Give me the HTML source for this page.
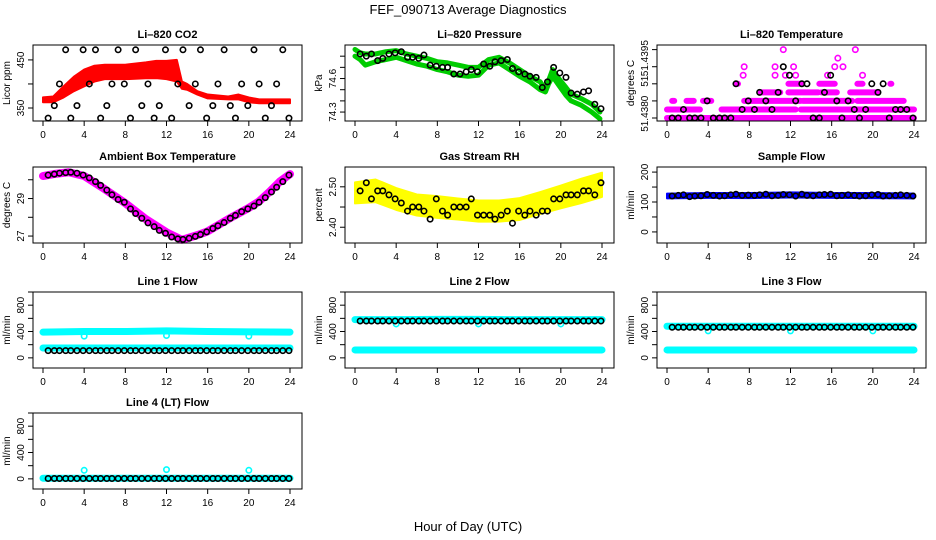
<!DOCTYPE html>
<html><head><meta charset="utf-8"><style>
body{margin:0;background:#fff}
svg{display:block;font-family:"Liberation Sans",sans-serif}
</style></head><body>
<svg id="c" width="936" height="540" viewBox="0 0 936 540" xmlns="http://www.w3.org/2000/svg">
<rect width="936" height="540" fill="#fff"/>
<text x="468" y="14" text-anchor="middle" font-size="13">FEF_090713  Average Diagnostics</text>
<text x="468" y="531" text-anchor="middle" font-size="13">Hour of Day (UTC)</text>
</svg>
<script>
const hourTicks=[0,4,8,12,16,20,24];
const blackHours=[0.5,1.1,1.6,2.2,2.7,3.3,3.9,4.5,5.1,5.6,6.2,6.7,7.3,7.9,8.5,9.0,9.6,10.2,10.8,11.3,11.9,12.5,13.1,13.6,14.2,14.8,15.3,15.9,16.5,17.0,17.6,18.2,18.7,19.3,19.9,20.5,21.0,21.6,22.2,22.7,23.3,23.9];
// CO2
const co2Hours=[0,1,2,3,4,5,6,8,10,11,12,13,13.5,14,15,16,18,19,20,21,24];
const co2Lower=[362,362,372,385,395,405,410,410,412,412,410,405,390,388,378,370,368,368,362,360,360];
const co2Upper=[372,374,395,415,430,438,440,440,445,448,448,450,405,400,385,378,374,378,372,368,368];
const co2Black=[329,355,400,471,329,355,471,400,471,329,355,400,471,400,329,471,355,400,329,355,471,329,400,471,355,400,471,329,355,400,471,355,329,400,355,471,400,329,355,400,471,329];
// Pressure
const presHours=[0,0.5,1,2,3,4,5,6,7,8,9,10,11,12,13,14,15,16,17,18,18.5,18.8,19.2,19.8,20.5,21,22,23,23.8];
const presUpper=[74.86,74.83,74.82,74.82,74.84,74.85,74.82,74.8,74.78,74.75,74.74,74.72,74.7,74.7,74.77,74.79,74.74,74.68,74.62,74.57,74.5,74.58,74.68,74.6,74.52,74.46,74.42,74.37,74.3];
const presLower=[74.8,74.77,74.72,74.75,74.77,74.79,74.76,74.73,74.71,74.68,74.66,74.63,74.62,74.63,74.72,74.74,74.68,74.62,74.57,74.5,74.48,74.55,74.62,74.54,74.45,74.4,74.36,74.3,74.24];
const presBlack=[74.82,74.8,74.82,74.76,74.78,74.82,74.83,74.84,74.79,74.79,74.78,74.81,74.72,74.71,74.7,74.7,74.64,74.64,74.66,74.68,74.66,74.73,74.71,74.75,74.76,74.77,74.69,74.66,74.64,74.62,74.61,74.52,74.57,74.7,74.65,74.61,74.47,74.46,74.48,74.49,74.37,74.33];
// Li-820 temperature (levels)
const tempLevelLabels=["51.4380","51","51.4395"];
const tempRuns=[[0,0,24],[1,0,3.2],[1,5.3,12.5],[1,13,24],[2,0.5,0.7],[2,1.9,2.6],[2,3.5,4.3],[2,7.5,13],[2,13.2,18],[2,18.5,23],[3,9.1,11],[3,11.8,14.7],[3,15,16.5],[3,17.8,20.5],[4,6.8,6.9],[4,11.8,13],[4,14.8,16.3],[4,18.5,19],[4,21.7,21.8]];
const tempSingles=[[5,7.4],[5,10.5],[5,11.5],[5,12.5],[5,15.6],[5,19.0],[6,7.5],[6,10.5],[6,12.3],[6,16.3],[6,17.1],[7,16.6],[8,11.3],[8,18.3]];
const tempBlack=[0,0,1,0,0,0,2,0,0,0,0,4,1,2,1,3,2,1,3,6,5,2,4,4,0,0,3,5,2,0,2,1,0,1,4,3,4,0,1,1,1,0];
// Ambient box temperature
const ambHours=[0,1,2.5,4,6,8,10,12,13.5,15,16,18,20,21,22,23,24];
const ambVals=[30.2,30.3,30.4,30.2,29.5,28.75,27.9,27.2,26.8,27.05,27.25,27.9,28.5,28.85,29.35,29.9,30.3];
const ambBlack=[30.25,30.3,30.35,30.38,30.4,30.35,30.25,30.1,29.9,29.7,29.45,29.2,28.95,28.8,28.45,28.2,27.95,27.7,27.5,27.3,27.15,26.95,26.85,26.82,26.88,26.98,27.08,27.22,27.4,27.55,27.72,27.95,28.1,28.3,28.45,28.6,28.8,29.05,29.35,29.6,29.9,30.25];
// Gas stream RH
const rhHours=[0,2,4,6,8,10,12,14,16,18,20,22,24];
const rhCenter=[2.485,2.49,2.47,2.455,2.45,2.445,2.44,2.44,2.445,2.46,2.475,2.49,2.505];
const rhSpread=[0.026,0.028,0.027,0.026,0.027,0.026,0.026,0.026,0.027,0.027,0.028,0.03,0.03];
const rhBlack=[2.49,2.51,2.47,2.49,2.49,2.48,2.47,2.46,2.44,2.45,2.45,2.44,2.42,2.47,2.44,2.43,2.45,2.45,2.45,2.47,2.43,2.43,2.43,2.42,2.43,2.44,2.41,2.44,2.43,2.44,2.43,2.44,2.44,2.47,2.47,2.48,2.48,2.48,2.49,2.49,2.48,2.51];
// Sample flow
const sfLower=[112,114,113,115,114,113,112];
const sfUpper=[128,130,130,132,130,130,128];
const sfBlack=[120,122,124,118,120,121,125,122,120,121,124,126,122,123,122,124,126,121,122,125,124,120,126,122,121,124,125,126,121,122,124,122,120,121,124,125,120,121,122,124,122,120];
// Flow lines
const flowTicks=[0,200,400,600,800,1000];
const flowLabels=["0","","400","","800",""];
const line1Cyan=[[390,400,400,410,400,395,390],[150,150,150,150,150,150,150]];
const line1Black=110;
const line2Cyan=[[580,580,585,585,580,580,580],[120,120,120,120,120,120,120]];
const line2Black=560;
const line3Cyan=[[480,480,480,480,480,480,480],[120,120,120,120,120,120,120]];
const line3Black=465;
const line4Cyan=[[10,10,10,10,10,10,10]];
const line4Black=5;
const bandHours=[0,4,8,12,16,20,24];
const dipHours=[4,12,20];
const line1Dips=[330,340,330];
const line2Dips=[515,515,515];
const line3Dips=[410,410,410];
const line4Dips=[130,140,130];

const svg=document.getElementById('c');
const NS='http://www.w3.org/2000/svg';
function mk(tag,attrs,parent){const e=document.createElementNS(NS,tag);for(const k in attrs)e.setAttribute(k,attrs[k]);(parent||svg).appendChild(e);return e;}
const rowTop=[45,167,292,413];
function panel(col,row,name,title,ylab,ymin,ymax,yticks,ylabels){
  const L=33+312*col,R=302+312*col,T=rowTop[row],B=T+76;
  const g=mk('g',{});
  
  
  const x=h=>43+312*col+h/24*247;
  const y=v=>B-(v-ymin)/(ymax-ymin)*76;
  const t=mk('text',{x:(L+R)/2,y:T-7,'text-anchor':'middle','font-size':11,'font-weight':'bold'},g);t.textContent=title;
  
  
  const yl=mk('text',{x:0,y:0,'text-anchor':'middle','font-size':10,transform:`translate(${L-23},${(T+B)/2}) rotate(-90)`},g);yl.textContent=ylab;
  
  
  hourTicks.forEach(h=>{mk('line',{x1:x(h),x2:x(h),y1:B,y2:B+5,stroke:'#000'},g);
    const tx=mk('text',{x:x(h),y:B+17,'text-anchor':'middle','font-size':10},g);tx.textContent=h;
    
    });
  yticks.forEach((v,i)=>{mk('line',{x1:L-5,x2:L,y1:y(v),y2:y(v),stroke:'#000'},g);
    if(ylabels[i]){const ty=mk('text',{x:0,y:0,'text-anchor':'middle','font-size':10,transform:`translate(${L-9},${y(v)}) rotate(-90)`},g);ty.textContent=ylabels[i];
      
      }});
  const data=mk('g',{},g);
  mk('rect',{x:L,y:T,width:R-L,height:76,fill:'none',stroke:'#000'},g);
  return {x,y,g:data};
}
function band(p,hours,lo,hi,color,name){
  let pts=hours.map((h,i)=>p.x(h)+','+p.y(hi[i]));
  pts=pts.concat(hours.slice().reverse().map((h,j)=>{const i=hours.length-1-j;return p.x(h)+','+p.y(lo[i]);}));
  const e=mk('polygon',{points:pts.join(' '),fill:color,stroke:color,'stroke-width':2,'stroke-linejoin':'round'},p.g);
  
  
}
function trace(p,hours,vals,color,w,name){
  const e=mk('polyline',{points:hours.map((h,i)=>p.x(h)+','+p.y(vals[i])).join(' '),fill:'none',stroke:color,'stroke-width':w,'stroke-linejoin':'round','stroke-linecap':'round'},p.g);
  
  
}
function pts(p,hours,vals,color,name){
  hours.forEach((h,i)=>{const c=mk('circle',{cx:p.x(h),cy:p.y(vals[i]),r:2.7,fill:'none',stroke:color,'stroke-width':1.6},p.g);
    
    });
}
// CO2
let p=panel(0,0,'co2','Li\u2013820 CO2','Licor ppm',323,481,[350,400,450],['350','','450']);
band(p,co2Hours,co2Lower,co2Upper,'#ff0000','co2-red-series');
pts(p,blackHours,co2Black,'#000','co2-point');
// Pressure
p=panel(1,0,'pressure','Li\u2013820 Pressure','kPa',74.22,74.9,[74.3,74.4,74.5,74.6,74.7,74.8],['74.3','','','74.6','','']);
trace(p,presHours,presUpper,'#00cc00',5,'pressure-green-upper');
trace(p,presHours,presLower,'#00cc00',5,'pressure-green-lower');
pts(p,blackHours,presBlack,'#000','pressure-point');
// Li-820 temperature
p=panel(2,0,'li820-temp','Li\u2013820 Temperature','degrees C',-0.35,8.54,[0,2,4,6,8],['','','','','']);
[[tempLevelLabels[0],0.5],[tempLevelLabels[1],4.3],[tempLevelLabels[2],7]].forEach(([s,v])=>{const t=mk('text',{x:0,y:0,'text-anchor':'middle','font-size':10,transform:`translate(${33+624-9},${p.y(v)}) rotate(-90)`},p.g);t.textContent=s;
  
  });
tempRuns.forEach(r=>{const e=mk('line',{x1:p.x(r[1]),x2:p.x(r[2]),y1:p.y(r[0]),y2:p.y(r[0]),stroke:'#ff00ff','stroke-width':6,'stroke-linecap':'round'},p.g);
  
  });
pts(p,tempSingles.map(s=>s[1]),tempSingles.map(s=>s[0]),'#ff00ff','temp-magenta-point');
pts(p,blackHours,tempBlack,'#000','temp-point');
// Ambient
p=panel(0,1,'ambient','Ambient Box Temperature','degrees C',26.63,30.68,[27,28,29,30],['27','','29','']);
trace(p,ambHours,ambVals,'#ff00ff',8,'ambient-magenta-series');
pts(p,blackHours,ambBlack,'#000','ambient-point');
// RH
p=panel(1,1,'rh','Gas Stream RH','percent',2.361,2.549,[2.40,2.45,2.50],['2.40','','2.50']);
band(p,rhHours,rhCenter.map((c,i)=>c-rhSpread[i]),rhCenter.map((c,i)=>c+rhSpread[i]),'#ffff00','rh-yellow-series');
pts(p,blackHours,rhBlack,'#000','rh-point');
// Sample flow
p=panel(2,1,'sample-flow','Sample Flow','ml/min',-37,217,[0,50,100,150,200],['0','','100','','200']);
band(p,bandHours,sfLower,sfUpper,'#0000ff','sample-flow-blue-series');
pts(p,blackHours,sfBlack,'#000','sample-flow-point');
// Flow lines
function flowPanel(col,row,name,title,cyan,blk,dips){
  const q=panel(col,row,name,title,'ml/min',-154,1000,flowTicks,flowLabels);
  cyan.forEach((arr,k)=>trace(q,bandHours,arr,'#00ffff',7,name+'-cyan-series-'+k));
  pts(q,dipHours,dips,'#00ffff',name+'-cyan-dip');
  pts(q,blackHours,blackHours.map(()=>blk),'#000',name+'-point');
}
flowPanel(0,2,'line1-flow','Line 1 Flow',line1Cyan,line1Black,line1Dips);
flowPanel(1,2,'line2-flow','Line 2 Flow',line2Cyan,line2Black,line2Dips);
flowPanel(2,2,'line3-flow','Line 3 Flow',line3Cyan,line3Black,line3Dips);
flowPanel(0,3,'line4-flow','Line 4 (LT) Flow',line4Cyan,line4Black,line4Dips);
</script>
</body></html>
